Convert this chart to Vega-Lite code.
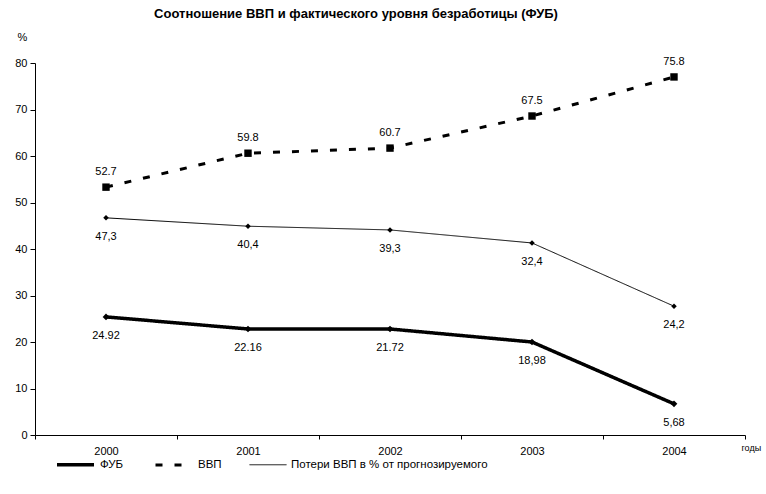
{
  "$schema": "https://vega.github.io/schema/vega-lite/v6.json",
  "width": 710,
  "height": 372,
  "autosize": "none",
  "padding": {"left": 35, "top": 63, "right": 21, "bottom": 59},
  "background": "white",
  "title": {
    "text": "Соотношение ВВП и фактического уровня безработицы (ФУБ)",
    "font": "Liberation Sans",
    "fontSize": 13,
    "fontWeight": "bold",
    "color": "black",
    "anchor": "middle",
    "offset": 10,
    "dx": -34
  },
  "config": {
    "view": {"stroke": null},
    "font": "Liberation Sans",
    "axis": {
      "grid": false,
      "domainColor": "black",
      "tickColor": "black",
      "labelColor": "black",
      "titleColor": "black",
      "labelFont": "Liberation Sans",
      "titleFont": "Liberation Sans"
    },
    "legend": {"labelFont": "Liberation Sans", "labelColor": "black"}
  },
  "data": {
    "values": [
      {"year": "2000", "series": "ФУБ", "value": 25.4, "label": "24.92"},
      {"year": "2001", "series": "ФУБ", "value": 22.8, "label": "22.16"},
      {"year": "2002", "series": "ФУБ", "value": 22.8, "label": "21.72"},
      {"year": "2003", "series": "ФУБ", "value": 20.0, "label": "18,98"},
      {"year": "2004", "series": "ФУБ", "value": 6.7, "label": "5,68"},
      {"year": "2000", "series": "ВВП", "value": 53.3, "label": "52.7"},
      {"year": "2001", "series": "ВВП", "value": 60.6, "label": "59.8"},
      {"year": "2002", "series": "ВВП", "value": 61.7, "label": "60.7"},
      {"year": "2003", "series": "ВВП", "value": 68.6, "label": "67.5"},
      {"year": "2004", "series": "ВВП", "value": 77.0, "label": "75.8"},
      {"year": "2000", "series": "Потери ВВП в % от прогнозируемого", "value": 46.7, "label": "47,3"},
      {"year": "2001", "series": "Потери ВВП в % от прогнозируемого", "value": 44.9, "label": "40,4"},
      {"year": "2002", "series": "Потери ВВП в % от прогнозируемого", "value": 44.1, "label": "39,3"},
      {"year": "2003", "series": "Потери ВВП в % от прогнозируемого", "value": 41.3, "label": "32,4"},
      {"year": "2004", "series": "Потери ВВП в % от прогнозируемого", "value": 27.7, "label": "24,2"}
    ]
  },
  "encoding": {
    "x": {
      "field": "year",
      "type": "ordinal",
      "bandPosition": 0.5,
      "scale": {"type": "band", "paddingInner": 0, "paddingOuter": 0},
      "axis": {
        "title": "годы",
        "titleX": 706,
        "titleY": 12,
        "titleAlign": "left",
        "titleBaseline": "middle",
        "titleFontSize": 9,
        "titleFontWeight": "normal",
        "labelAngle": 0,
        "labelFontSize": 11,
        "labelPadding": 6,
        "tickBand": "extent",
        "tickSize": 4
      }
    },
    "y": {
      "field": "value",
      "type": "quantitative",
      "scale": {"domain": [0, 80], "nice": false},
      "axis": {
        "title": "%",
        "titleAngle": 0,
        "titleX": -13,
        "titleY": -26,
        "titleAlign": "center",
        "titleBaseline": "middle",
        "titleFontSize": 11,
        "titleFontWeight": "normal",
        "values": [0, 10, 20, 30, 40, 50, 60, 70, 80],
        "tickSize": 5,
        "labelFontSize": 11,
        "labelPadding": 3
      }
    }
  },
  "layer": [
    {
      "mark": {"type": "line"},
      "encoding": {
        "color": {
          "field": "series",
          "type": "nominal",
          "scale": {"domain": ["ФУБ", "ВВП", "Потери ВВП в % от прогнозируемого"], "range": ["black", "black", "black"]},
          "legend": {"orient": "none", "legendX": 20, "legendY": 381, "direction": "horizontal", "title": null, "symbolType": "stroke", "symbolSize": 1369, "labelFontSize": 11.5, "labelLimit": 300, "columnPadding": 25}
        },
        "strokeDash": {
          "field": "series",
          "type": "nominal",
          "scale": {"domain": ["ФУБ", "ВВП", "Потери ВВП в % от прогнозируемого"], "range": [[1, 0], [7, 12], [1, 0]]},
          "legend": {"orient": "none", "legendX": 20, "legendY": 381, "direction": "horizontal", "title": null, "symbolType": "stroke", "symbolSize": 1369, "labelFontSize": 11.5, "labelLimit": 300, "columnPadding": 25}
        },
        "strokeWidth": {
          "field": "series",
          "type": "ordinal",
          "scale": {"type": "ordinal", "domain": ["ФУБ", "ВВП", "Потери ВВП в % от прогнозируемого"], "range": [3.5, 3, 1]},
          "legend": {"orient": "none", "legendX": 20, "legendY": 381, "direction": "horizontal", "title": null, "symbolType": "stroke", "symbolSize": 1369, "labelFontSize": 11.5, "labelLimit": 300, "columnPadding": 25}
        }
      }
    },
    {
      "mark": {"type": "point", "filled": true, "color": "black", "opacity": 1},
      "encoding": {
        "shape": {"condition": {"test": "datum.series === 'ВВП'", "value": "square"}, "value": "diamond"},
        "size": {
          "condition": [
            {"test": "datum.series === 'ВВП'", "value": 55},
            {"test": "datum.series === 'ФУБ'", "value": 45}
          ],
          "value": 30
        }
      }
    },
    {
      "transform": [{"filter": "datum.series === 'ВВП'"}],
      "mark": {"type": "text", "dy": -15, "fontSize": 11, "color": "black"},
      "encoding": {"text": {"field": "label"}}
    },
    {
      "transform": [{"filter": "datum.series !== 'ВВП'"}],
      "mark": {"type": "text", "dy": 19, "fontSize": 11, "color": "black"},
      "encoding": {"text": {"field": "label"}}
    }
  ]
}
